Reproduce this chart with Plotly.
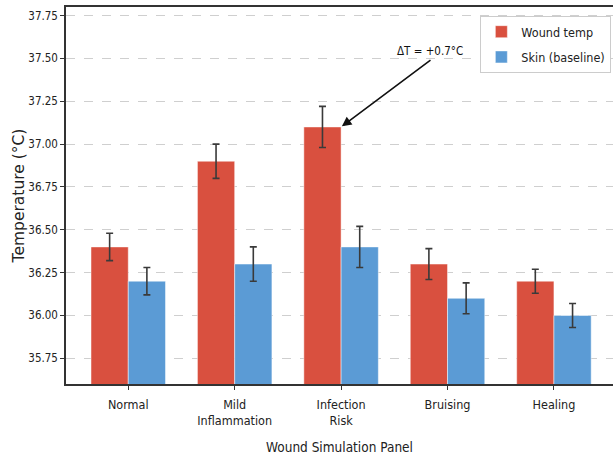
import plotly.graph_objects as go

categories = ["Normal", "Mild<br>Inflammation", "Infection<br>Risk", "Bruising", "Healing"]
wound_temp = [36.4, 36.9, 37.1, 36.3, 36.2]
skin_temp = [36.2, 36.3, 36.4, 36.1, 36.0]
errors = [0.08, 0.10, 0.12, 0.09, 0.07]
y_ticks = [35.75, 36.00, 36.25, 36.50, 36.75, 37.00, 37.25, 37.50, 37.75]

RED = "#d9503f"
BLUE = "#5b9bd5"
COND = "DejaVu Sans Condensed, DejaVu Sans, sans-serif"

x_idx = list(range(len(categories)))

fig = go.Figure()
fig.add_trace(go.Bar(
    x=x_idx, y=wound_temp, name="Wound temp", legendgroup="wound",
    marker=dict(color=RED, line=dict(color="rgba(255,255,255,0.6)", width=0.8)),
    error_y=dict(type="data", array=errors, color="#3a3a3a", thickness=1.6, width=3.5),
    offsetgroup="a",
))
fig.add_trace(go.Bar(
    x=x_idx, y=skin_temp, name="Skin (baseline)", legendgroup="skin",
    marker=dict(color=BLUE, line=dict(color="rgba(255,255,255,0.6)", width=0.8)),
    error_y=dict(type="data", array=errors, color="#3a3a3a", thickness=1.6, width=3.5),
    offsetgroup="b",
))

fig.add_annotation(
    x=2.0, y=wound_temp[2], xref="x", yref="y",
    ax=2.84, ay=37.49, axref="x", ayref="y",
    text="ΔT = +0.7°C", showarrow=True,
    arrowhead=2, arrowsize=1.2, arrowwidth=1.6, arrowcolor="#111111",
    font=dict(family=COND, size=11.5, color="#111111"),
    yanchor="bottom", standoff=1,
)

fig.update_layout(
    width=613, height=459,
    margin=dict(l=66, r=0, t=7, b=75, autoexpand=False),
    plot_bgcolor="white", paper_bgcolor="white",
    barmode="group", bargap=0.3, bargroupgap=0.0,
    font=dict(family=COND, size=12, color="#222222"),
    legend=dict(
        x=0.997, y=0.976, xanchor="right", yanchor="top",
        bordercolor="#cccccc", borderwidth=1, bgcolor="white",
        font=dict(family=COND, size=12.5, color="#222222"),
        itemwidth=30, tracegroupgap=6,
    ),
    xaxis=dict(
        range=[-0.585, 4.555],
        tickmode="array", tickvals=x_idx, ticktext=categories,
        ticks="outside", ticklen=4, tickcolor="#333333",
        ticklabelstandoff=4,
        showline=True, linecolor="#333333", linewidth=1.5, mirror=True,
        showgrid=False, zeroline=False, automargin=False,
        tickfont=dict(family=COND, size=12.5, color="#222222"),
        title=dict(text="Wound Simulation Panel", standoff=16,
                   font=dict(family=COND, size=13.5, color="#222222")),
    ),
    yaxis=dict(
        range=[35.6, 37.8],
        tickmode="array", tickvals=y_ticks, ticktext=[f"{v:.2f}" for v in y_ticks],
        ticks="outside", ticklen=4, tickcolor="#333333",
        showline=True, linecolor="#333333", linewidth=1.5,
        showgrid=True, gridcolor="#cfcfcf", griddash="dash", gridwidth=1,
        zeroline=False, automargin=False,
        tickfont=dict(family=COND, size=11.5, color="#222222"),
        title=dict(text="Temperature (°C)", standoff=0,
                   font=dict(family="DejaVu Sans", size=15.5, color="#222222")),
    ),
)

fig.write_html(
    "out.html",
    config={"displayModeBar": False},
    post_script="document.body.style.margin='0';document.body.style.overflow='hidden';",
)
